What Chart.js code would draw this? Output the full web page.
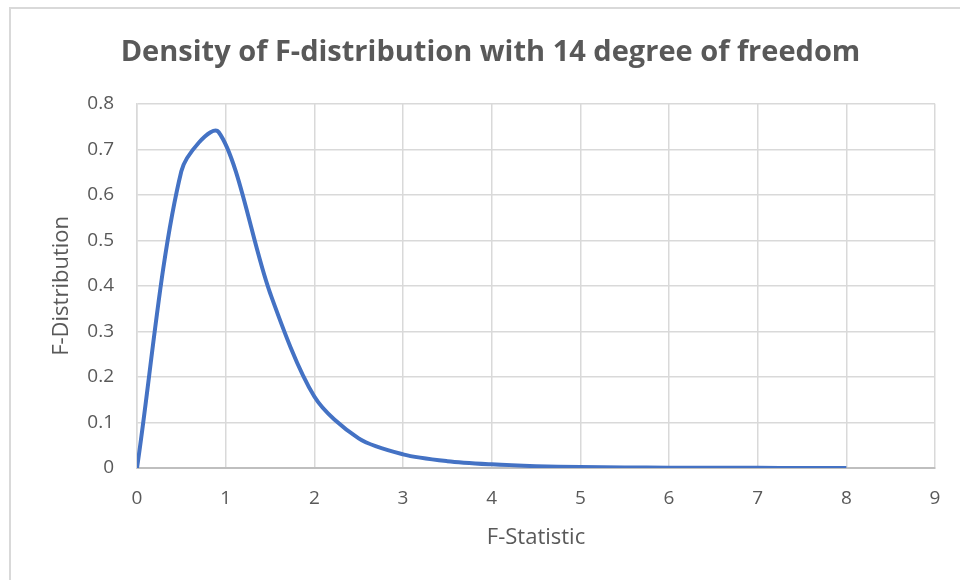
<!DOCTYPE html>
<html>
<head>
<meta charset="utf-8">
<script src="https://cdn.jsdelivr.net/npm/chart.js@4/dist/chart.umd.min.js"></script>
<style>
  html, body { margin: 0; padding: 0; background: #ffffff; overflow: hidden; }
  #frame { position: absolute; left: 9px; top: 7px; width: 1000px; height: 1000px; border: 2px solid #d9d9d9; }
  #wrap { position: absolute; left: 0; top: 0; width: 960px; height: 580px; }
</style>
</head>
<body>
<div id="frame"></div>
<div id="wrap"><canvas id="chart" width="960" height="580"></canvas></div>
<script>
// F-statistic values and the density read at each one
const fStatistic = [0, 0.5, 0.92, 1.5, 2, 2.5, 3, 3.5, 4, 4.5, 5, 5.5, 6, 6.5, 7, 7.5, 8];
const density = [0, 0.652, 0.738, 0.385, 0.157, 0.065, 0.03, 0.015, 0.008, 0.004, 0.002, 0.0013, 0.0008, 0.0005, 0.0003, 0.0002, 0.0001];

const xTicks = [0, 1, 2, 3, 4, 5, 6, 7, 8, 9];
const yTicks = [0, 0.1, 0.2, 0.3, 0.4, 0.5, 0.6, 0.7, 0.8];

const chartTitle = 'Density of F-distribution with 14 degree of freedom';
const xTitle = 'F-Statistic';
const yTitle = 'F-Distribution';

const points = fStatistic.map((x, i) => ({ x: x, y: density[i] }));
const textColor = '#595959';
const gridColor = '#d9d9d9';
const fontFamily = '"Open Sans", "Noto Sans", sans-serif';

new Chart(document.getElementById('chart'), {
  type: 'scatter',
  data: {
    datasets: [{
      data: points,
      showLine: true,
      borderColor: '#4472c4',
      borderWidth: 4,
      pointRadius: 0,
      pointHoverRadius: 0,
      tension: 0.3,
      fill: false
    }]
  },
  options: {
    responsive: false,
    animation: false,
    layout: { padding: { left: 46, right: 25, top: 0, bottom: 0 } },
    plugins: {
      legend: { display: false },
      tooltip: { enabled: false },
      title: {
        display: true,
        text: chartTitle,
        color: textColor,
        font: { family: fontFamily, size: 29, weight: 'bold', lineHeight: 1.2 },
        padding: { top: 35, bottom: 34 }
      }
    },
    scales: {
      x: {
        type: 'linear',
        min: 0,
        max: 9,
        afterBuildTicks: (scale) => { scale.ticks = xTicks.map(v => ({ value: v })); },
        afterFit: (scale) => { scale.height = 112; },
        grid: { color: gridColor, lineWidth: 1.5, drawTicks: false },
        border: { color: '#bfbfbf', width: 2 },
        ticks: { color: textColor, padding: 19, font: { family: fontFamily, size: 19 } },
        title: {
          display: true,
          text: xTitle,
          color: textColor,
          font: { family: fontFamily, size: 22 },
          padding: { top: 0, bottom: 29 }
        }
      },
      y: {
        type: 'linear',
        min: 0,
        max: 0.8,
        afterBuildTicks: (scale) => { scale.ticks = yTicks.map(v => ({ value: v })); },
        afterFit: (scale) => { scale.width = 91; },
        grid: { color: gridColor, lineWidth: 1.5, drawTicks: false },
        border: { color: gridColor, width: 1.5 },
        ticks: { color: textColor, padding: 23, font: { family: fontFamily, size: 19 } },
        title: {
          display: true,
          text: yTitle,
          color: textColor,
          font: { family: fontFamily, size: 22 },
          padding: { top: 3, bottom: 0 }
        }
      }
    }
  }
});
</script>
</body>
</html>
